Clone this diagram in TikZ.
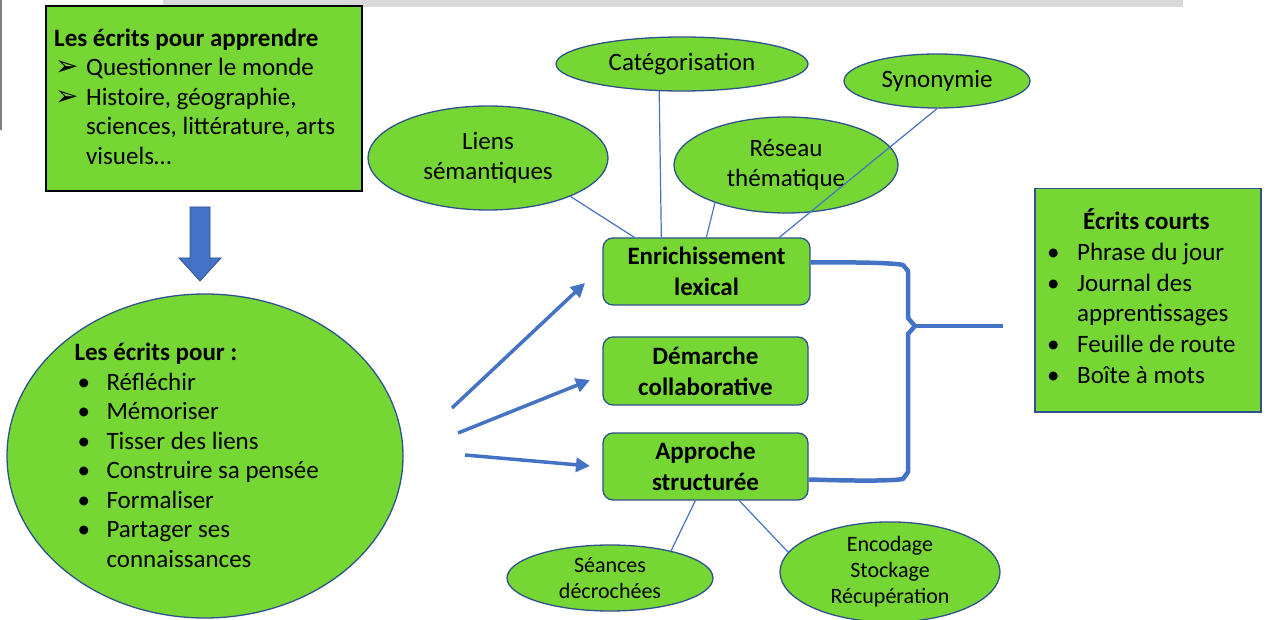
\documentclass[tikz,border=0pt]{standalone}
\usepackage{fontspec}
\setmainfont{Carlito}
\newfontfamily\symfont{DejaVu Sans}
\usetikzlibrary{shapes.geometric,arrows.meta,calc}
\definecolor{vert}{RGB}{118,214,52}
\definecolor{bleu}{RGB}{68,114,196}
\definecolor{bleufonce}{RGB}{47,82,143}
\definecolor{grisbar}{RGB}{217,217,217}
\newcommand\flechepuce{{\symfont\fontsize{28}{28}\selectfont ➢}}
\begin{document}
\begin{tikzpicture}[x=1pt,y=-1pt,
  ell/.style={ellipse, draw=bleufonce, line width=1.3pt, fill=vert, inner sep=0pt, align=center},
  rbox/.style={rectangle, rounded corners=10pt, draw=bleufonce, line width=1.3pt, fill=vert, align=center,
    font=\bfseries\fontsize{25}{31}\selectfont, minimum width=207pt, minimum height=67pt, inner sep=0pt},
  lienfin/.style={draw=bleu, line width=1.2pt},
  fleche/.style={draw=bleu, line width=3.5pt, -{Triangle[length=14pt,width=14pt]}},
  accolade/.style={draw=bleu, line width=4.5pt, line join=round},
  txt/.style={anchor=west, inner sep=0pt, font=\fontsize{25}{29.5}\selectfont},
  etiq/.style={font=\fontsize{25}{30}\selectfont},
  petiq/.style={font=\fontsize{22}{26}\selectfont}]

\useasboundingbox (0,0) rectangle (1267,620);

% decorations at the edges
\fill[grisbar] (163,0) rectangle (1183,7);
\draw[gray, line width=1.2pt] (1,0) -- (1,130);

% top-left box
\node[draw=black, line width=2.2pt, fill=vert, minimum width=316pt, minimum height=185pt,
      anchor=north west, inner sep=0pt] (apprendre) at (45,5) {};
\node[txt] (apprendreT) at ($(apprendre.west)+(9,1)$) {\begin{tabular}{@{}p{32pt}@{}l@{}}
\multicolumn{2}{@{}l@{}}{\textbf{Les écrits pour apprendre}}\\
\hspace{1pt}\flechepuce & Questionner le monde\\
\hspace{1pt}\flechepuce & Histoire, géographie,\\
 & sciences, littérature, arts\\
 & visuels…
\end{tabular}};

% down block arrow
\filldraw[fill=bleu, draw=bleufonce, line width=0.8pt]
  (190,207) -- (210,207) -- (210,258) -- (221,258) -- (200,281) -- (179,258) -- (190,258) -- cycle;

% big ellipse
\node[ell, minimum width=396pt, minimum height=324pt] (pour) at (205,456) {};
\node[txt] (pourT) at ($(pour.west)+(68,2)$) {\begin{tabular}{@{}p{32pt}@{}l@{}}
\multicolumn{2}{@{}l@{}}{\textbf{Les écrits pour :}}\\
\hspace{3pt}• & Réfléchir\\
\hspace{3pt}• & Mémoriser\\
\hspace{3pt}• & Tisser des liens\\
\hspace{3pt}• & Construire sa pensée\\
\hspace{3pt}• & Formaliser\\
\hspace{3pt}• & Partager ses\\
 & connaissances
\end{tabular}};

% central boxes
\node[rbox] (enrich) at (706.5,271.5) {Enrichissement\\lexical};
\node[rbox, minimum width=205pt, minimum height=68pt] (demarche) at (705.5,371) {Démarche\\collaborative};
\node[rbox, minimum width=205pt] (approche) at (705.5,466.5) {Approche\\structurée};

% top ellipses
\node[ell, etiq, minimum width=252pt, minimum height=54pt] (categ) at (682,64) {Catégorisation};
\node[ell, etiq, minimum width=186pt, minimum height=54pt] (syno) at (937,81) {Synonymie};
\node[ell, etiq, minimum width=240pt, minimum height=104pt] (liens) at (488,158) {Liens\\sémantiques};
\node[ell, etiq, minimum width=224pt, minimum height=96pt] (reseau) at (786,165) {Réseau\\thématique};

% bottom ellipses
\node[ell, petiq, minimum width=206pt, minimum height=66pt] (seances) at (610,578) {Séances\\décrochées};
\node[ell, petiq, minimum width=220pt, minimum height=86pt] (encod) at (890,572) {Encodage\\Stockage\\Récupération};

% right box
\node[draw=bleufonce, line width=1.5pt, fill=vert, minimum width=226pt, minimum height=223pt,
      anchor=north west, inner sep=0pt] (courts) at (1034,188) {};
\node[txt, font=\fontsize{25}{30.8}\selectfont] (courtsT) at ($(courts.west)+(13,0)$) {\begin{tabular}{@{}p{30pt}@{}l@{}}
\multicolumn{2}{@{}l@{}}{\hspace{36pt}\textbf{Écrits courts}}\\
• & Phrase du jour\\
• & Journal des\\
 & apprentissages\\
• & Feuille de route\\
• & Boîte à mots
\end{tabular}};

% thin connectors
\draw[lienfin] (liens.-25) -- ($(enrich.north west)+(32,0)$);
\draw[lienfin] (categ.-130) -- ($(enrich.north west)+(59,0)$);
\draw[lienfin] (reseau.-152) -- ($(enrich.north west)+(104,0)$);
\draw[lienfin] (syno.south) -- ($(enrich.north west)+(177,0)$);
\draw[lienfin] ($(approche.south west)+(93,0)$) -- (seances.24);
\draw[lienfin] ($(approche.south west)+(137,0)$) -- (encod.169);

% arrows
\coordinate (a1s) at (452,408); \coordinate (a1e) at (585,283);
\coordinate (a2s) at (458,433); \coordinate (a2e) at (590,380);
\coordinate (a3s) at (465,455); \coordinate (a3e) at (590,466);
\draw[fleche] (a1s) -- (a1e);
\draw[fleche] (a2s) -- (a2e);
\draw[fleche] (a3s) -- (a3e);

% brace
\coordinate (bt) at (1003,326);
\coordinate (bm) at (915,326);
\draw[accolade] ($(enrich.east)+(0,-9)$) .. controls (860,262) and (895,263) .. (903,265) -- (908,271)
  -- (908,318) -- (bm) -- (908,334) -- (908,472) -- (903,479)
  .. controls (890,481) and (860,481) .. ($(approche.east)+(0,13)$);
\draw[accolade] (bm) -- (bt);
\end{tikzpicture}
\end{document}
